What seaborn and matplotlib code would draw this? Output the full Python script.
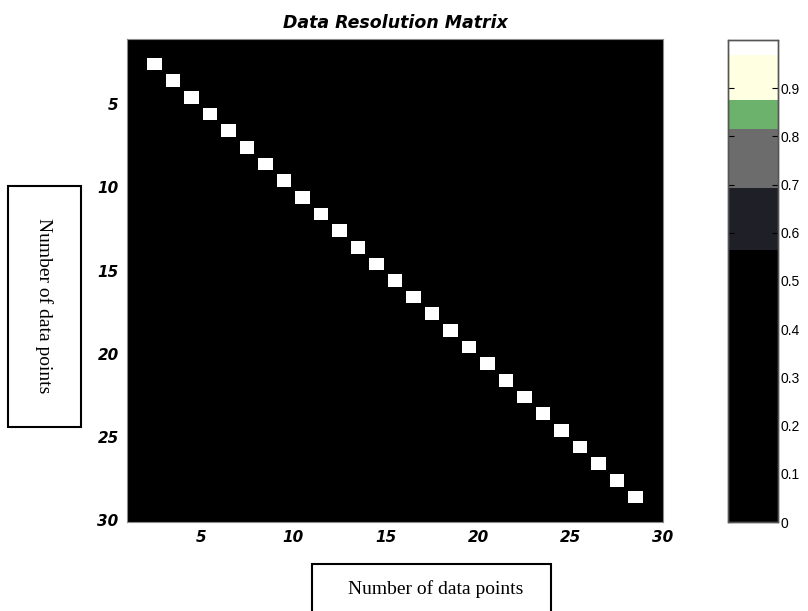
import numpy as np
import pandas as pd
import matplotlib
matplotlib.use("Agg")
import matplotlib.pyplot as plt
from matplotlib.colors import ListedColormap
from matplotlib.patches import Rectangle
import seaborn as sns

# ---- data ----
# diagonal of the 29x29 data resolution matrix (off-diagonal entries are ~0)
diag_values = [0.0, 0.99, 0.99, 0.99, 0.99, 0.99, 0.99, 0.99, 0.99, 0.99,
               0.99, 0.99, 0.99, 0.99, 0.99, 0.99, 0.99, 0.99, 0.99, 0.99,
               0.99, 0.99, 0.99, 0.99, 0.99, 0.99, 0.99, 0.99, 0.0]
off_diag_value = 0.0
axis_ticks = [5, 10, 15, 20, 25, 30]
cbar_ticks = [0, 0.1, 0.2, 0.3, 0.4, 0.5, 0.6, 0.7, 0.8, 0.9]
cbar_tick_labels = ["0", "0.1", "0.2", "0.3", "0.4", "0.5", "0.6", "0.7", "0.8", "0.9"]

# colour bands of the colorbar (upper bound, colour)
band_bounds = [0.565, 0.692, 0.816, 0.876, 0.969, 1.0]
band_colors = ["#000000", "#1f1f28", "#6c6c6c", "#6cb16c", "#ffffe2", "#ffffff"]

n = len(diag_values)
mat = np.full((n, n), off_diag_value)
mat[np.arange(n), np.arange(n)] = diag_values
df = pd.DataFrame(mat, index=range(1, n + 1), columns=range(1, n + 1))

# build stepped colormap
N = 1000
cols = []
for k in range(N):
    v = (k + 0.5) / N
    for b, c in zip(band_bounds, band_colors):
        if v <= b:
            cols.append(c)
            break
    else:
        cols.append(band_colors[-1])
cmap = ListedColormap(cols)

W, H = 808, 611
fig = plt.figure(figsize=(W / 100, H / 100), dpi=100)
ax = fig.add_axes([127 / W, 1 - 522 / H, (663 - 127) / W, (522 - 39) / H])
cax = fig.add_axes([728 / W, 1 - 522 / H, (778 - 728) / W, (522 - 40) / H])

sns.heatmap(df, ax=ax, cbar_ax=cax, cmap=cmap, vmin=0, vmax=1.0,
            linewidths=1.5, linecolor="black", square=False)

# axis ticks: matlab axis coordinate v maps to heatmap coordinate v-1
ax.set_xticks([t - 1 for t in axis_ticks])
ax.set_xticklabels([str(t) for t in axis_ticks])
ax.set_yticks([t - 1 for t in axis_ticks])
ax.set_yticklabels([str(t) for t in axis_ticks], rotation=0)
ax.set_xlim(0, n)
ax.set_ylim(n, 0)
ax.tick_params(axis="both", length=0, pad=6)
for lab in ax.get_xticklabels() + ax.get_yticklabels():
    lab.set_fontfamily("DejaVu Sans")
    lab.set_fontweight("bold")
    lab.set_fontstyle("italic")
    lab.set_fontsize(11)
for s in ax.spines.values():
    s.set_visible(True)
    s.set_color("#8a8a8a")
    s.set_linewidth(0.8)
ax.set_xlabel("")
ax.set_ylabel("")
ax.set_title("Data Resolution Matrix", fontfamily="DejaVu Sans", fontweight="bold",
             fontstyle="italic", fontsize=12.5, pad=8)

# colorbar styling
cax.set_yticks(cbar_ticks)
cax.set_yticklabels(cbar_tick_labels)
cax.tick_params(axis="y", direction="in", left=True, right=True, length=4,
                width=0.8, pad=2, labelsize=10, colors="black")
for lab in cax.get_yticklabels():
    lab.set_fontfamily("Liberation Sans")
for s in cax.spines.values():
    s.set_visible(True)
    s.set_color("#555555")
    s.set_linewidth(1.0)

# boxed axis labels
fig.patches.append(Rectangle((312 / W, 1 - 620 / H), (551 - 312) / W, (620 - 564) / H,
                             transform=fig.transFigure, fill=False, edgecolor="black",
                             linewidth=1.5))
fig.text(436 / W, 1 - 589 / H, "Number of data points", ha="center", va="center",
         fontfamily="Liberation Serif", fontsize=14)
fig.patches.append(Rectangle((8 / W, 1 - 427 / H), (81 - 8) / W, (427 - 186) / H,
                             transform=fig.transFigure, fill=False, edgecolor="black",
                             linewidth=1.5))
fig.text(44 / W, 1 - 306 / H, "Number of data points", ha="center", va="center",
         rotation=-90, fontfamily="Liberation Serif", fontsize=14)

fig.savefig("out.png", dpi=100)
